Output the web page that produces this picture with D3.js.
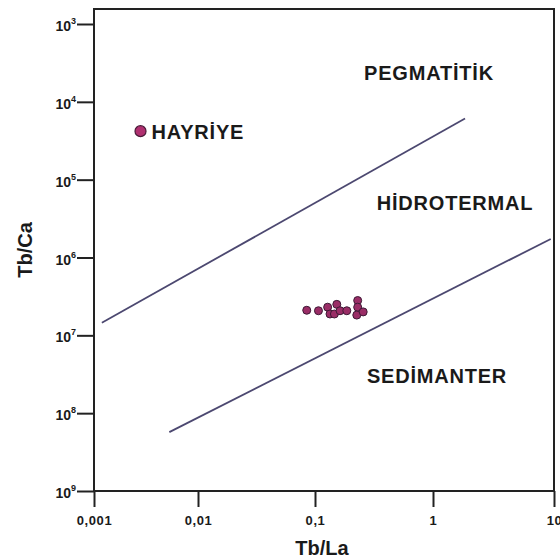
<!DOCTYPE html>
<html>
<head>
<meta charset="utf-8">
<script src="https://cdn.jsdelivr.net/npm/d3@7"></script>
<style>
  body { margin: 0; background: #fff; }
  text { font-family: "Liberation Sans", Arial, sans-serif; font-weight: bold; fill: #1a1a1a; }
</style>
</head>
<body>
<div class="chart"></div>
<script>
// Data
var xTicks = [0.001, 0.01, 0.1, 1, 10];
var xTickLabels = ["0,001", "0,01", "0,1", "1", "10"];
var yTicks = [1e-3, 1e-4, 1e-5, 1e-6, 1e-7, 1e-8, 1e-9];
var yTickExp = ["3", "4", "5", "6", "7", "8", "9"];

// Hayriye sample
var hayriye = [{ x: 0.0028, y: 4.2e-5 }];

// cluster of samples (Tb/La, Tb/Ca)
var sampleX = [0.085, 0.107, 0.128, 0.134, 0.153, 0.146, 0.163, 0.186, 0.23, 0.23, 0.226, 0.256];
var sampleY = [2.1e-7, 2.07e-7, 2.3e-7, 1.88e-7, 2.5e-7, 1.88e-7, 2.07e-7, 2.07e-7, 2.8e-7, 2.3e-7, 1.82e-7, 2.0e-7];

// boundary lines (start and end points)
var upperLine = [[0.00119, 1.45e-7], [1.84, 6.1e-5]];
var lowerLine = [[0.0053, 5.7e-9], [9.4, 1.73e-6]];

var regionNames = ["PEGMATİTİK", "HİDROTERMAL", "SEDİMANTER"];

var svgWidth = 560;
var svgHeight = 559;

var svg = d3.select(".chart")
  .append("svg")
  .attr("width", svgWidth)
  .attr("height", svgHeight);

// x ticks are not evenly spaced in the original drawing
var xScale = d3.scaleLog()
  .domain(xTicks)
  .range([94, 198, 315, 433, 554]);

var yScale = d3.scaleLog()
  .domain([1e-9, 1e-3])
  .range([491, 24]);

var plotLeft = 94, plotRight = 554, plotTop = 9, plotBottom = 491;

// frame
svg.append("path")
  .attr("d", `M${plotLeft},${plotBottom}V${plotTop}H${plotRight}V${plotBottom}Z`)
  .attr("fill", "none")
  .attr("stroke", "#222")
  .attr("stroke-width", 2);

// x axis
var xAxis = svg.append("g")
  .attr("transform", `translate(0, ${plotBottom})`)
  .call(d3.axisBottom(xScale)
    .tickValues(xTicks)
    .tickSize(16)
    .tickFormat((d, i) => xTickLabels[i]));
xAxis.select(".domain").remove();
xAxis.selectAll("line").attr("stroke", "#222").attr("stroke-width", 2);
xAxis.selectAll("text")
  .attr("y", 25)
  .attr("dy", "0.71em")
  .attr("font-size", 13)
  .attr("letter-spacing", "0.6px")
  .attr("fill", "#1a1a1a")
  .attr("font-family", null);

// y axis
var yAxis = svg.append("g")
  .attr("transform", `translate(${plotLeft}, 0)`)
  .call(d3.axisLeft(yScale)
    .tickValues(yTicks)
    .tickSize(17)
    .tickFormat(""));
yAxis.select(".domain").remove();
yAxis.selectAll("line").attr("stroke", "#222").attr("stroke-width", 2);

var yLabels = svg.append("g").selectAll("text")
  .data(yTicks)
  .enter().append("text")
  .attr("x", 76)
  .attr("y", d => yScale(d) + 7)
  .attr("text-anchor", "end")
  .attr("font-size", 14);
yLabels.append("tspan").text("10");
yLabels.append("tspan")
  .attr("dy", -7)
  .attr("font-size", 9)
  .text((d, i) => yTickExp[i]);

// axis titles
svg.append("text")
  .attr("x", 322)
  .attr("y", 555)
  .attr("text-anchor", "middle")
  .attr("font-size", 20)
  .text("Tb/La");

svg.append("text")
  .attr("transform", "translate(32, 250) rotate(-90)")
  .attr("text-anchor", "middle")
  .attr("font-size", 20)
  .text("Tb/Ca");

// boundary lines
var line = d3.line()
  .x(d => xScale(d[0]))
  .y(d => yScale(d[1]));

svg.selectAll(".boundary")
  .data([upperLine, lowerLine])
  .enter().append("path")
  .attr("class", "boundary")
  .attr("d", line)
  .attr("fill", "none")
  .attr("stroke", "#4c4870")
  .attr("stroke-width", 1.8);

// region labels
var regionPos = [[429, 80], [455, 210], [437, 383]];
svg.selectAll(".region")
  .data(regionNames)
  .enter().append("text")
  .attr("class", "region")
  .attr("x", (d, i) => regionPos[i][0])
  .attr("y", (d, i) => regionPos[i][1])
  .attr("text-anchor", "middle")
  .attr("font-size", 20)
  .attr("letter-spacing", "0.8px")
  .text(d => d);

// samples
svg.append("g").selectAll("circle")
  .data(sampleX)
  .enter().append("circle")
  .attr("cx", d => xScale(d))
  .attr("cy", (d, i) => yScale(sampleY[i]))
  .attr("r", 4)
  .attr("fill", "#9a2d66")
  .attr("stroke", "#3e1a36")
  .attr("stroke-width", 1);

svg.append("g").selectAll("circle")
  .data(hayriye)
  .enter().append("circle")
  .attr("cx", d => xScale(d.x))
  .attr("cy", d => yScale(d.y))
  .attr("r", 5.5)
  .attr("fill", "#b03070")
  .attr("stroke", "#4a1a38")
  .attr("stroke-width", 1.2);

svg.append("text")
  .attr("x", xScale(hayriye[0].x) + 11)
  .attr("y", yScale(hayriye[0].y) + 8)
  .attr("font-size", 20)
  .attr("letter-spacing", "0.8px")
  .text("HAYRİYE");
</script>
</body>
</html>
